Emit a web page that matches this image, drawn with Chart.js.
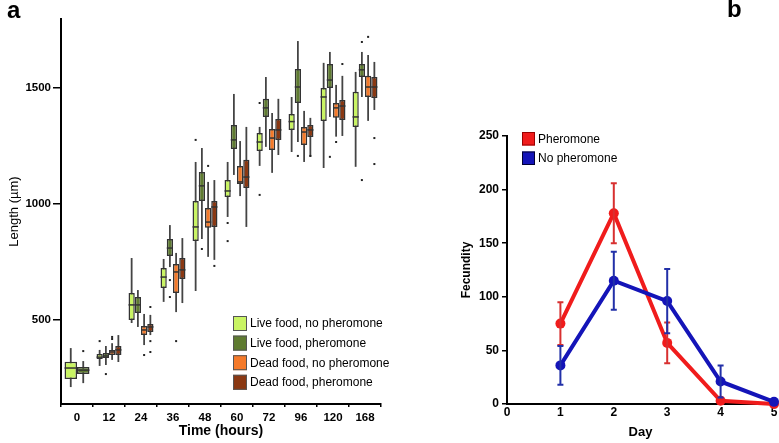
<!DOCTYPE html>
<html>
<head>
<meta charset="utf-8">
<script src="https://cdn.jsdelivr.net/npm/chart.js@4.4.0/dist/chart.umd.min.js"></script>
<style>
  body { margin: 0; background: #fff; }
  #wrap { position: relative; width: 779px; height: 443px; }
  #chartA { position: absolute; left: 0; top: 0; }
  #chartB { position: absolute; left: 440px; top: 0; }
</style>
</head>
<body>
<div id="wrap">
  <canvas id="chartA" width="440" height="443"></canvas>
  <canvas id="chartB" width="339" height="443"></canvas>
</div>
<script>
// ---- panel a: body length, five-number summaries [low, q1, median, q3, high] ----
const hours = ['0', '12', '24', '36', '48', '60', '72', '96', '120', '168'];
const lengthTicks = [500, 1000, 1500];

const liveNoPher = [
  [211, 246, 293, 320, 379], [302, 332, 340, 353, 371], [487, 500, 565, 616, 767],
  [578, 638, 685, 724, 763], [625, 840, 901, 1013, 1181], [944, 1030, 1056, 1103, 1181],
  [1164, 1228, 1267, 1306, 1332], [1224, 1319, 1355, 1388, 1461], [1155, 1358, 1461, 1500, 1608],
  [1160, 1332, 1375, 1483, 1569]
];
const livePher = [
  [228, 267, 284, 297, 323], [306, 336, 345, 358, 388], [470, 530, 565, 599, 629],
  [728, 776, 810, 849, 909], [849, 1013, 1078, 1138, 1241], [1125, 1237, 1276, 1340, 1474],
  [1246, 1375, 1414, 1453, 1547], [1267, 1435, 1504, 1582, 1702], [1375, 1500, 1534, 1603, 1655],
  [1461, 1547, 1578, 1603, 1655]
];
const deadNoPher = [
  null, [328, 349, 362, 371, 400], [392, 435, 457, 474, 526],
  [534, 616, 707, 741, 789], [772, 897, 922, 983, 1095], [1034, 1086, 1095, 1164, 1271],
  [1134, 1233, 1284, 1323, 1392], [1181, 1254, 1310, 1332, 1401], [1290, 1371, 1414, 1435, 1513],
  [1358, 1461, 1504, 1552, 1642]
];
const deadPher = [
  null, [319, 349, 371, 388, 435], [435, 448, 470, 483, 522],
  [573, 677, 716, 767, 853], [759, 901, 987, 1013, 1103], [901, 1069, 1116, 1190, 1332],
  [1211, 1276, 1319, 1366, 1453], [1203, 1289, 1319, 1340, 1371], [1293, 1362, 1422, 1448, 1552],
  [1405, 1457, 1504, 1547, 1612]
];

// outliers as [time index, value]
const liveNoPherOut = [[1, 409], [4, 1276], [5, 918], [5, 840], [6, 1435], [6, 1039]];
const livePherOut = [[0, 366], [1, 267], [3, 672], [3, 599], [4, 806], [7, 1207], [8, 1203], [9, 1103], [9, 1698]];
const deadNoPherOut = [[1, 427], [1, 418], [2, 349], [3, 409], [4, 1164], [8, 1267], [9, 1720]];
const deadPherOut = [[2, 556], [2, 409], [2, 362], [4, 733], [7, 1207], [8, 1603], [9, 1284], [9, 1172]];

// ---- panel b: fecundity per day ----
const days = [1, 2, 3, 4, 5];
const pherMean = [75, 178, 57, 3, 0];
const pherErr = [20, 28, 19, 0, 0];
const noPherMean = [36, 115, 96, 21, 2];
const noPherErr = [18, 27, 30, 15, 0];
const fecTicks = [0, 50, 100, 150, 200, 250];
const dayTicks = [0, 1, 2, 3, 4, 5];

const FONT = '"Liberation Sans", Arial, sans-serif';
Chart.defaults.font.family = FONT;
Chart.defaults.color = '#000';

const groups = [
  { name: 'Live food, no pheromone', stats: liveNoPher, out: liveNoPherOut, color: '#c9f464' },
  { name: 'Live food, pheromone', stats: livePher, out: livePherOut, color: '#5f7b31' },
  { name: 'Dead food, no pheromone', stats: deadNoPher, out: deadNoPherOut, color: '#f47a2a' },
  { name: 'Dead food, pheromone', stats: deadPher, out: deadPherOut, color: '#8a3812' }
];

// whiskers, medians, outliers and the inset legend
const boxPlugin = {
  id: 'boxes',
  beforeDatasetsDraw(chart) {
    const ctx = chart.ctx, y = chart.scales.y;
    ctx.save();
    ctx.strokeStyle = '#444';
    ctx.lineWidth = 1.8;
    chart.data.datasets.forEach((ds, i) => {
      const meta = chart.getDatasetMeta(i);
      ds.stats.forEach((s, j) => {
        if (!s) return;
        const x = meta.data[j].x;
        ctx.beginPath();
        ctx.moveTo(x, y.getPixelForValue(s[0]));
        ctx.lineTo(x, y.getPixelForValue(s[4]));
        ctx.stroke();
      });
    });
    ctx.restore();
  },
  afterDatasetsDraw(chart) {
    const ctx = chart.ctx, y = chart.scales.y;
    ctx.save();
    chart.data.datasets.forEach((ds, i) => {
      const meta = chart.getDatasetMeta(i);
      ctx.strokeStyle = '#333';
      ctx.lineWidth = 1.5;
      ds.stats.forEach((s, j) => {
        if (!s) return;
        const bar = meta.data[j];
        const py = y.getPixelForValue(s[2]);
        ctx.beginPath();
        ctx.moveTo(bar.x - bar.width / 2, py);
        ctx.lineTo(bar.x + bar.width / 2, py);
        ctx.stroke();
      });
      ctx.fillStyle = '#222';
      ds.outliers.forEach(([j, v]) => {
        const x = meta.data[j].x;
        ctx.fillRect(x - 1, y.getPixelForValue(v) - 1, 2, 2);
      });
    });
    // legend
    ctx.font = '12px ' + FONT;
    ctx.textBaseline = 'middle';
    chart.data.datasets.forEach((ds, i) => {
      const top = 316 + i * 19.6;
      ctx.fillStyle = ds.backgroundColor;
      ctx.fillRect(233, top, 14, 15);
      ctx.strokeStyle = '#555';
      ctx.lineWidth = 1;
      ctx.strokeRect(233.5, top + 0.5, 13, 14);
      ctx.fillStyle = '#000';
      ctx.fillText(ds.label, 250, top + 8);
    });
    ctx.font = 'bold 24px ' + FONT;
    ctx.textBaseline = 'alphabetic';
    ctx.fillText('a', 7, 18);
    ctx.restore();
  }
};

new Chart(document.getElementById('chartA'), {
  type: 'bar',
  data: {
    labels: hours,
    datasets: groups.map(g => ({
      label: g.name,
      data: g.stats.map(s => (s ? [s[1], s[3]] : null)),
      stats: g.stats,
      outliers: g.out,
      backgroundColor: g.color,
      borderColor: '#333',
      borderWidth: 1.5,
      borderSkipped: false,
      skipNull: true,
      categoryPercentage: 0.78,
      barPercentage: 1
    }))
  },
  options: {
    responsive: false,
    animation: false,
    layout: { padding: { left: 0, right: 59, top: 19, bottom: 0 } },
    plugins: { legend: { display: false }, tooltip: { enabled: false } },
    scales: {
      x: {
        offset: true,
        grid: { display: true, drawOnChartArea: false, tickLength: 3, color: '#000', lineWidth: 1.5 },
        border: { color: '#000', width: 2 },
        ticks: { font: { size: 11.5, weight: 'bold' }, padding: 4, maxRotation: 0 },
        title: { display: true, text: 'Time (hours)', font: { size: 14, weight: 'bold' }, padding: { top: 0, bottom: 3 } },
        afterFit(s) { s.height = 39; }
      },
      y: {
        min: 138,
        max: 1797,
        afterBuildTicks(s) { s.ticks = lengthTicks.map(v => ({ value: v })); },
        grid: { display: true, drawOnChartArea: false, tickLength: 8, color: '#000', lineWidth: 1.5 },
        border: { color: '#000', width: 2 },
        ticks: { font: { size: 11.5, weight: 'bold' }, padding: 2, callback: v => String(v) },
        title: { display: true, text: 'Length (µm)', font: { size: 13 }, padding: { top: 7, bottom: 0 } },
        afterFit(s) { s.width = 61; }
      }
    }
  },
  plugins: [boxPlugin]
});

// error bars and legend for panel b
const errPlugin = {
  id: 'errbars',
  afterDatasetsDraw(chart) {
    const ctx = chart.ctx, xs = chart.scales.x, ys = chart.scales.y;
    const left = chart.chartArea.left;
    ctx.save();
    chart.data.datasets.forEach(ds => {
      ctx.strokeStyle = ds.errColor;
      ctx.lineWidth = 2;
      ds.data.forEach((p, i) => {
        const e = ds.err[i];
        if (!e) return;
        const x = xs.getPixelForValue(p.x);
        const y1 = ys.getPixelForValue(p.y - e), y2 = ys.getPixelForValue(p.y + e);
        ctx.beginPath();
        ctx.moveTo(x, y1); ctx.lineTo(x, y2);
        ctx.moveTo(x - 3, y1); ctx.lineTo(x + 3, y1);
        ctx.moveTo(x - 3, y2); ctx.lineTo(x + 3, y2);
        ctx.stroke();
      });
    });
    ctx.font = '12px ' + FONT;
    ctx.textBaseline = 'middle';
    chart.data.datasets.forEach((ds, i) => {
      const top = 132 + i * 19.5;
      ctx.fillStyle = ds.borderColor;
      ctx.fillRect(left + 15, top, 13, 13.5);
      ctx.strokeStyle = ds.edge;
      ctx.lineWidth = 1;
      ctx.strokeRect(left + 15.5, top + 0.5, 12, 12.5);
      ctx.fillStyle = '#000';
      ctx.fillText(ds.label, left + 31, top + 7.5);
    });
    ctx.font = 'bold 24px ' + FONT;
    ctx.textBaseline = 'alphabetic';
    ctx.fillText('b', left + 220, 17);
    ctx.restore();
  }
};

new Chart(document.getElementById('chartB'), {
  type: 'line',
  data: {
    datasets: [
      {
        label: 'Pheromone',
        data: days.map((d, i) => ({ x: d, y: pherMean[i] })),
        err: pherErr,
        errColor: '#d83030',
        edge: '#900',
        borderColor: '#f01c1c',
        backgroundColor: '#f01c1c',
        borderWidth: 4,
        pointRadius: 5,
        pointBorderWidth: 0,
        tension: 0,
        clip: false,
        order: 2
      },
      {
        label: 'No pheromone',
        data: days.map((d, i) => ({ x: d, y: noPherMean[i] })),
        err: noPherErr,
        errColor: '#2230a8',
        edge: '#003',
        borderColor: '#1414b8',
        backgroundColor: '#1414b8',
        borderWidth: 4,
        pointRadius: 5,
        pointBorderWidth: 0,
        tension: 0,
        clip: false,
        order: 1
      }
    ]
  },
  options: {
    responsive: false,
    animation: false,
    layout: { padding: { left: 0, right: 4, top: 136, bottom: 0 } },
    plugins: { legend: { display: false }, tooltip: { enabled: false } },
    scales: {
      x: {
        type: 'linear',
        min: 0,
        max: 5,
        afterBuildTicks(s) { s.ticks = dayTicks.map(v => ({ value: v })); },
        grid: { display: true, drawOnChartArea: false, drawTicks: false, tickLength: 0 },
        border: { color: '#000', width: 2 },
        ticks: { font: { size: 12, weight: 'bold' }, padding: 1 },
        title: { display: true, text: 'Day', font: { size: 13, weight: 'bold' }, padding: { top: 0, bottom: 3 } },
        afterFit(s) { s.height = 39; }
      },
      y: {
        min: 0,
        max: 250,
        afterBuildTicks(s) { s.ticks = fecTicks.map(v => ({ value: v })); },
        grid: { display: true, drawOnChartArea: false, tickLength: 5, color: '#000', lineWidth: 1.5 },
        border: { color: '#000', width: 2 },
        ticks: { font: { size: 12, weight: 'bold' }, padding: 3 },
        title: { display: true, text: 'Fecundity', font: { size: 12, weight: 'bold' }, padding: { top: 19, bottom: 0 } },
        afterFit(s) { s.width = 67; }
      }
    }
  },
  plugins: [errPlugin]
});
</script>
</body>
</html>
